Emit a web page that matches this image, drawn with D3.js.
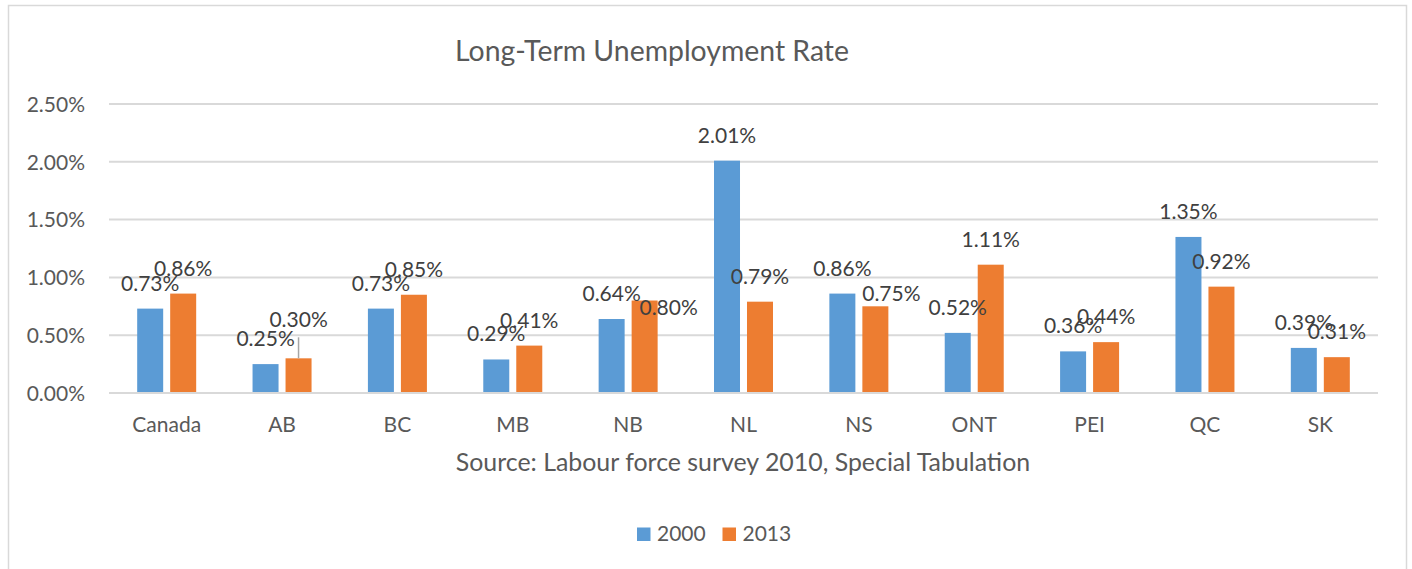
<!DOCTYPE html>
<html>
<head>
<meta charset="utf-8">
<script src="https://cdn.jsdelivr.net/npm/d3@7"></script>
<style>
  html, body { margin: 0; padding: 0; background: #fff; }
  svg { display: block; }
  text { font-family: Lato, "Open Sans", sans-serif; }
</style>
</head>
<body>
<svg id="chart" width="1412" height="569"></svg>
<script>
// Long-term unemployment rate by province, 2000 vs 2013 (percent)
const categories = ["Canada", "AB", "BC", "MB", "NB", "NL", "NS", "ONT", "PEI", "QC", "SK"];
const seriesNames = ["2000", "2013"];
const rate2000 = [0.73, 0.25, 0.73, 0.29, 0.64, 2.01, 0.86, 0.52, 0.36, 1.35, 0.39];
const rate2013 = [0.86, 0.30, 0.85, 0.41, 0.80, 0.79, 0.75, 1.11, 0.44, 0.92, 0.31];
const yTicks = [0, 0.5, 1.0, 1.5, 2.0, 2.5];

const titleText = "Long-Term Unemployment Rate";
const xAxisTitle = "Source: Labour force survey 2010, Special Tabulation";

const colors = { "2000": "#5b9bd5", "2013": "#ed7d31" };

// Hand-placed data labels (shifted away from their default spot)
const labelNudges = {
  "AB|2013": { dx: 0, dy: -13, leader: true },
  "NB|2013": { dx: 24, dy: 32 },
  "NS|2013": { dx: 16, dy: 13 }
};

const svg = d3.select("#chart");
const plot = { left: 109, right: 1378, top: 104, bottom: 393 };

// chart frame (runs past the lower edge of the view)
svg.append("rect")
  .attr("x", 8.5).attr("y", 5.5)
  .attr("width", 1398).attr("height", 620)
  .attr("fill", "#fff").attr("stroke", "#d9d9d9").attr("stroke-width", 1.5);

const rows = categories.map((c, i) => ({
  category: c,
  values: [
    { series: "2000", value: rate2000[i] },
    { series: "2013", value: rate2013[i] }
  ]
}));

const x0 = d3.scaleBand().domain(categories).range([plot.left, plot.right]).padding(0);
const bw = x0.bandwidth();
const x1 = d3.scaleBand().domain(seriesNames)
  .range([bw / 2 - 29.5, bw / 2 + 29.5])
  .paddingInner(0.212).paddingOuter(0);
const y = d3.scaleLinear().domain([0, 2.5]).range([plot.bottom, plot.top]);
const fmt = v => d3.format(".2f")(v) + "%";

// gridlines
svg.append("g")
  .selectAll("line")
  .data(yTicks)
  .join("line")
  .attr("x1", plot.left).attr("x2", plot.right)
  .attr("y1", d => y(d)).attr("y2", d => y(d))
  .attr("stroke", "#d9d9d9").attr("stroke-width", 2);

// y axis tick labels
const yAxis = d3.axisLeft(y).tickValues(yTicks).tickFormat(fmt).tickSize(0).tickPadding(0);
const gy = svg.append("g").attr("transform", `translate(85,0)`).call(yAxis);
gy.select(".domain").remove();
gy.selectAll("text")
  .attr("fill", "#595959")
  .attr("font-size", 21)
  .attr("font-family", "Lato, sans-serif")
  .attr("dy", "0.35em");

// x axis category labels
const xAxis = d3.axisBottom(x0).tickSize(0).tickPadding(0);
const gx = svg.append("g").attr("transform", `translate(0,${plot.bottom})`).call(xAxis);
gx.select(".domain").remove();
gx.selectAll("text")
  .attr("fill", "#595959")
  .attr("font-size", 21)
  .attr("font-family", "Lato, sans-serif")
  .attr("y", 38.5).attr("dy", 0);

// bars
const groups = svg.append("g")
  .selectAll("g")
  .data(rows)
  .join("g")
  .attr("transform", d => `translate(${x0(d.category)},0)`);

groups.selectAll("rect")
  .data(d => d.values)
  .join("rect")
  .attr("x", d => x1(d.series))
  .attr("width", x1.bandwidth())
  .attr("y", d => y(d.value))
  .attr("height", d => y(0) - y(d.value))
  .attr("fill", d => colors[d.series]);

// leader lines for moved labels
groups.selectAll("line.leader")
  .data(d => d.values.filter(v => (labelNudges[d.category + "|" + v.series] || {}).leader)
    .map(v => ({ ...v, category: d.category })))
  .join("line")
  .attr("class", "leader")
  .attr("x1", d => x1(d.series) + x1.bandwidth() / 2)
  .attr("x2", d => x1(d.series) + x1.bandwidth() / 2)
  .attr("y1", d => y(d.value))
  .attr("y2", d => y(d.value) - 18 + labelNudges[d.category + "|" + d.series].dy + 10)
  .attr("stroke", "#a6a6a6").attr("stroke-width", 1.5);

// x axis baseline
svg.append("line")
  .attr("x1", plot.left).attr("x2", plot.right)
  .attr("y1", y(0)).attr("y2", y(0))
  .attr("stroke", "#d9d9d9").attr("stroke-width", 2);

// data labels
groups.selectAll("text.value")
  .data(d => d.values.map(v => ({ ...v, category: d.category })))
  .join("text")
  .attr("class", "value")
  .attr("text-anchor", "middle")
  .attr("font-size", 21)
  .attr("fill", "#404040")
  .attr("x", d => x1(d.series) + x1.bandwidth() / 2 + ((labelNudges[d.category + "|" + d.series] || {}).dx || 0))
  .attr("y", d => y(d.value) - 18 + ((labelNudges[d.category + "|" + d.series] || {}).dy || 0))
  .text(d => fmt(d.value));

// title
svg.append("text")
  .attr("x", 652).attr("y", 61)
  .attr("text-anchor", "middle")
  .attr("font-size", 28.4)
  .attr("fill", "#595959")
  .text(titleText);

// axis title
svg.append("text")
  .attr("x", (plot.left + plot.right) / 2 - 0.5).attr("y", 471)
  .attr("text-anchor", "middle")
  .attr("font-size", 24.9)
  .attr("fill", "#595959")
  .text(xAxisTitle);

// legend
const legend = svg.append("g").attr("transform", "translate(637,527.5)");
const legendItems = legend.selectAll("g")
  .data(seriesNames)
  .join("g")
  .attr("transform", (d, i) => `translate(${i * 85.5},0)`);
legendItems.append("rect")
  .attr("width", 13.5).attr("height", 13.5)
  .attr("fill", d => colors[d]);
legendItems.append("text")
  .attr("x", 20).attr("y", 13.5)
  .attr("font-size", 21)
  .attr("fill", "#595959")
  .text(d => d);
</script>
</body>
</html>
